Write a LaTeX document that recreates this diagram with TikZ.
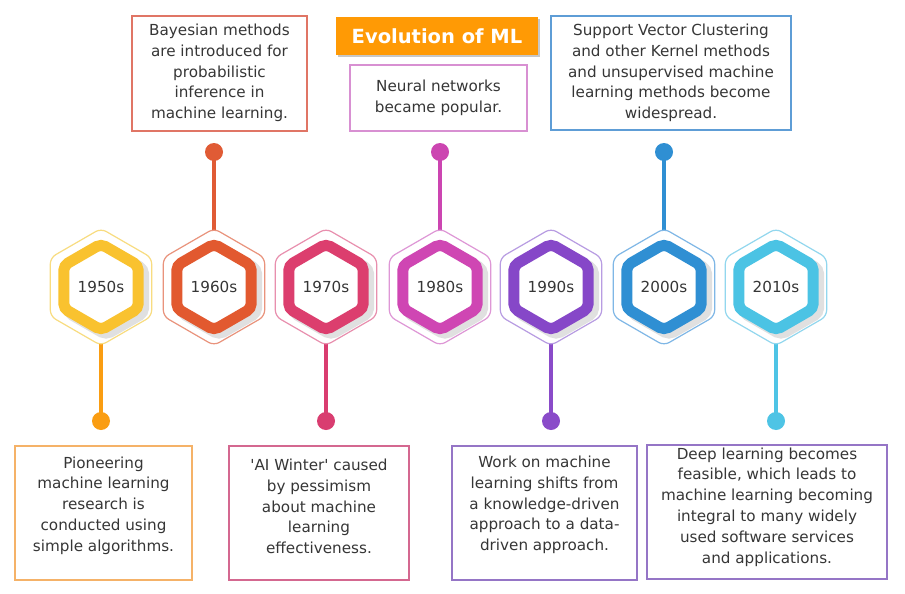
\documentclass[tikz,border=0pt]{standalone}
\usepackage{fontspec}
\setmainfont{DejaVu Sans}[Ligatures=TeXOff]
\usetikzlibrary{shapes.geometric}
\definecolor{txt}{HTML}{363636}
\definecolor{ttl}{HTML}{FF9A05}
% rings
\definecolor{r50}{HTML}{F9C22F}
\definecolor{r60}{HTML}{E2592F}
\definecolor{r70}{HTML}{DC3E6E}
\definecolor{r80}{HTML}{CF46B3}
\definecolor{r90}{HTML}{8647C8}
\definecolor{r00}{HTML}{2F8FD3}
\definecolor{r10}{HTML}{4BC3E4}
% outlines
\definecolor{o50}{HTML}{F8DC80}
\definecolor{o60}{HTML}{E9937C}
\definecolor{o70}{HTML}{E88FAE}
\definecolor{o80}{HTML}{DE97D6}
\definecolor{o90}{HTML}{B89CE2}
\definecolor{o00}{HTML}{7FB7E6}
\definecolor{o10}{HTML}{92D7EE}
% dots / links
\definecolor{d50}{HTML}{FA9D12}
\definecolor{d60}{HTML}{E05B35}
\definecolor{d70}{HTML}{D93D70}
\definecolor{d80}{HTML}{CC45B1}
\definecolor{d90}{HTML}{8A4BC9}
\definecolor{d00}{HTML}{2F8FD3}
\definecolor{d10}{HTML}{4EC4E5}
% box borders
\definecolor{b50}{HTML}{F5B268}
\definecolor{b60}{HTML}{E07565}
\definecolor{b70}{HTML}{D46890}
\definecolor{b80}{HTML}{D890D2}
\definecolor{b90}{HTML}{9575C6}
\definecolor{b00}{HTML}{5E9DD6}
\definecolor{b10}{HTML}{9575C6}
\pgfdeclarelayer{bg}
\pgfdeclarelayer{paper}
\pgfsetlayers{paper,bg,main}
\begin{document}
\begin{tikzpicture}[x=1pt,y=-1pt,
  every node/.style={inner sep=0pt, outer sep=0pt},
  hexout/.style={regular polygon, regular polygon sides=6, regular polygon rotate=30,
    minimum size=117pt, draw=#1, line width=1.2pt, fill=white, rounded corners=6pt},
  hexshadow/.style={regular polygon, regular polygon sides=6, regular polygon rotate=30,
    minimum size=86pt, draw=black!12, line width=12pt, rounded corners=5pt},
  hexring/.style={regular polygon, regular polygon sides=6, regular polygon rotate=30,
    minimum size=86pt, draw=#1, line width=11pt, fill=white, rounded corners=5pt,
    text=txt, font=\fontsize{15.2}{18}\selectfont},
  dotmark/.style={circle, fill=#1, minimum size=18pt},
  linkline/.style={draw=#1, line width=4pt},
  infobox/.style={draw=#1, line width=1.1pt, fill=white, rectangle},
  infotext/.style={align=center, text=txt, font=\fontsize{15.2}{20.8}\selectfont},
]
\begin{pgfonlayer}{paper}
  \fill[white] (0,0) rectangle (905,594);
\end{pgfonlayer}
\useasboundingbox (0,0) rectangle (905,594);

% timeline hexagons, dots and connectors
\foreach \n/\x/\s/\dy in {1950s/101/50/421, 1960s/214/60/152, 1970s/326/70/421,
  1980s/440/80/152, 1990s/551/90/421, 2000s/664/00/152, 2010s/776/10/421}{
  \node[hexout=o\s] (o\n) at (\x,287) {};
  \node[hexshadow] (s\n) at (\x+5,291) {};
  \node[hexring=r\s] (h\n) at (\x,287) {\n};
  \node[dotmark=d\s] (d\n) at (\x,\dy) {};
  \begin{pgfonlayer}{bg}
    \draw[linkline=d\s] (d\n.center) -- (o\n.center);
  \end{pgfonlayer}
}

% title
\node[fill=black!22, minimum width=202pt, minimum height=38pt] (tshadow) at (439,38) {};
\node[fill=ttl, minimum width=202pt, minimum height=38pt,
  text=white, font=\bfseries\fontsize{19.5}{22}\selectfont] (title) at (437,36) {Evolution of ML};

% top boxes
\node[infobox=b60, minimum width=175pt, minimum height=115pt] (b1960) at (219.5,73.5) {};
\node[infotext] (t1960) at (219.5,73) {Bayesian methods\\are introduced for\\probabilistic\\inference in\\machine learning.};

\node[infobox=b80, minimum width=177pt, minimum height=66pt] (b1980) at (438.5,98) {};
\node[infotext] (t1980) at (438.5,97.5) {Neural networks\\became popular.};

\node[infobox=b00, minimum width=240pt, minimum height=114pt] (b2000) at (671,73) {};
\node[infotext] (t2000) at (671,73) {Support Vector Clustering\\and other Kernel methods\\and unsupervised machine\\learning methods become\\widespread.};

% bottom boxes
\node[infobox=b50, minimum width=177pt, minimum height=134pt] (b1950) at (103.5,513) {};
\node[infotext] (t1950) at (103.5,505.5) {Pioneering\\machine learning\\research is\\conducted using\\simple algorithms.};

\node[infobox=b70, minimum width=180pt, minimum height=134pt] (b1970) at (319,513) {};
\node[infotext] (t1970) at (319,506.5) {'AI Winter' caused\\by pessimism\\about machine\\learning\\effectiveness.};

\node[infobox=b90, minimum width=185pt, minimum height=134pt] (b1990) at (544.5,513) {};
\node[infotext] (t1990) at (544.5,505) {Work on machine\\learning shifts from\\a knowledge-driven\\approach to a data-\\driven approach.};

\node[infobox=b10, minimum width=240pt, minimum height=134pt] (b2010) at (767,512) {};
\node[infotext] (t2010) at (767,507) {Deep learning becomes\\feasible, which leads to\\machine learning becoming\\integral to many widely\\used software services\\and applications.};
\end{tikzpicture}
\end{document}
